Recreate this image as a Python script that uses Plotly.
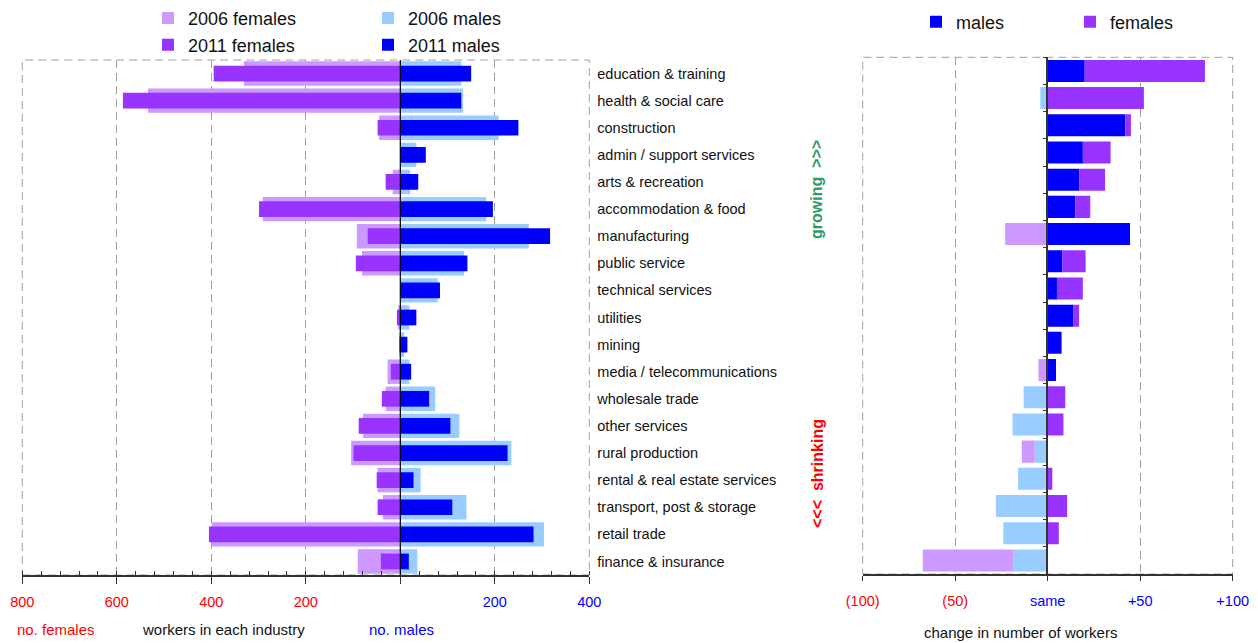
import plotly.graph_objects as go

# ---------------- data ----------------
industries = [
    "education & training", "health & social care", "construction",
    "admin / support services", "arts & recreation", "accommodation & food",
    "manufacturing", "public service", "technical services", "utilities",
    "mining", "media / telecommunications", "wholesale trade", "other services",
    "rural production", "rental & real estate services",
    "transport, post & storage", "retail trade", "finance & insurance",
]
females_2006 = [331, 534, 45, 0, 16, 291, 92, 81, 0, 3, 1, 27, 31, 79, 104, 48, 37, 399, 90]
females_2011 = [395, 587, 48, 0, 31, 299, 69, 94, 0, 7, 2, 20, 39, 88, 99, 50, 48, 405, 41]
males_2006 = [129, 133, 208, 34, 21, 182, 272, 135, 79, 19, 8, 19, 74, 125, 235, 43, 140, 304, 36]
males_2011 = [150, 129, 250, 54, 38, 196, 317, 142, 84, 34, 15, 23, 61, 106, 227, 28, 110, 282, 18]

male_change = [20, -4, 42, 19, 17, 15, 44.5, 8, 5, 14, 7.5, 4.5, -13, -19, -7, -16, -28, -24, -18.5]
female_change = [65, 52, 3, 15, 14, 8, -23, 12.5, 14, 3, 0, -5, 9.5, 8.5, -7, 2.5, 10.5, 6, -49]

left_ticks = [-800, -600, -400, -200, 0, 200, 400]
left_tick_text = ["800", "600", "400", "200", "", "200", "400"]
right_ticks = [-100, -50, 0, 50, 100]
right_tick_text = ["(100)", "(50)", "same", "+50", "+100"]

# ---------------- styles ----------------
C_F06, C_M06, C_F11, C_M11 = "#cc99ff", "#99ccff", "#9933ff", "#0000ff"
RED, BLUE = "#ff0000", "#0000ff"
FONT = "Liberation Sans, Arial, Helvetica, sans-serif"
W, H = 1258, 643
GRID = "#a0a0a0"
DASH = "8px,5px"


def px(v):
    return v / W


def py(v):
    return 1 - v / H


def col_text(txt, c):
    return f"<span style='color:{c}'>{txt}</span>" if txt else ""


fig = go.Figure()

# left: population pyramid (overlay)
fig.add_trace(go.Bar(y=industries, x=[-v for v in females_2006], orientation="h", width=0.9,
                     marker=dict(color=C_F06, line=dict(width=0)), name="2006 females",
                     legend="legend", xaxis="x", yaxis="y"))
fig.add_trace(go.Bar(y=industries, x=males_2006, orientation="h", width=0.9,
                     marker=dict(color=C_M06, line=dict(width=0)), name="2006 males",
                     legend="legend2", xaxis="x", yaxis="y"))
fig.add_trace(go.Bar(y=industries, x=[-v for v in females_2011], orientation="h", width=0.58,
                     marker=dict(color=C_F11, line=dict(width=0)), name="2011 females",
                     legend="legend3", xaxis="x", yaxis="y"))
fig.add_trace(go.Bar(y=industries, x=males_2011, orientation="h", width=0.58,
                     marker=dict(color=C_M11, line=dict(width=0)), name="2011 males",
                     legend="legend4", xaxis="x", yaxis="y"))

# right: change (relative stacking done through base)
male_cols = [C_M11 if v >= 0 else C_M06 for v in male_change]
female_cols = [C_F11 if v >= 0 else C_F06 for v in female_change]
female_base = [m if (m >= 0) == (f >= 0) else 0 for m, f in zip(male_change, female_change)]
fig.add_trace(go.Bar(y=industries, x=male_change, base=[0] * len(male_change), orientation="h",
                     width=0.81, marker=dict(color=male_cols, line=dict(width=0)), name="males",
                     legend="legend5", xaxis="x2", yaxis="y2"))
fig.add_trace(go.Bar(y=industries, x=female_change, base=female_base, orientation="h",
                     width=0.81, marker=dict(color=female_cols, line=dict(width=0)), name="females",
                     legend="legend6", xaxis="x2", yaxis="y2"))

left_dom = [px(22.3), px(589.3)]
right_dom = [px(862.7), px(1232.7)]
ydom_left = [py(575), py(60)]
ydom_right = [py(574), py(57.3)]

legend_common = dict(bgcolor="rgba(0,0,0,0)", borderwidth=0, xanchor="left", yanchor="middle",
                     font=dict(family=FONT, size=18, color="#111"))

fig.update_layout(
    width=W, height=H,
    margin=dict(l=0, r=0, t=0, b=0, autoexpand=False),
    paper_bgcolor="white", plot_bgcolor="white",
    barmode="overlay",
    font=dict(family=FONT, size=14.5, color="#111"),
    showlegend=True,
    legend=dict(x=px(148), y=py(18.3), **legend_common),
    legend2=dict(x=px(368), y=py(18.3), **legend_common),
    legend3=dict(x=px(148), y=py(45), **legend_common),
    legend4=dict(x=px(368), y=py(45), **legend_common),
    legend5=dict(x=px(916), y=py(22), **legend_common),
    legend6=dict(x=px(1070), y=py(22), **legend_common),
    xaxis=dict(domain=left_dom, anchor="y", range=[-800, 400], tickmode="array",
               tickvals=left_ticks,
               ticktext=[col_text(t, RED if v < 0 else BLUE) for t, v in zip(left_tick_text, left_ticks)],
               ticks="outside", ticklen=7, tickcolor="#333", tickwidth=1,
               minor=dict(dtick=40, ticks="inside", ticklen=4, tickcolor="#333", showgrid=False),
               showline=True, linecolor="#333", linewidth=1.5,
               showgrid=True, gridcolor=GRID, griddash=DASH, gridwidth=1,
               zeroline=False, ticklabelstandoff=6, fixedrange=True),
    yaxis=dict(domain=ydom_left, anchor="x", side="right", type="category",
               categoryorder="array", categoryarray=industries, range=[18.5, -0.5],
               showgrid=False, zeroline=False, ticks="", showline=False,
               tickfont=dict(size=14.5, color="#111"), ticklabelstandoff=7, fixedrange=True),
    xaxis2=dict(domain=right_dom, anchor="y2", range=[-100, 100], tickmode="array",
                tickvals=right_ticks,
                ticktext=[col_text(t, RED if v < 0 else BLUE) for t, v in zip(right_tick_text, right_ticks)],
                ticks="outside", ticklen=5, tickcolor="#333",
                showline=True, linecolor="#333", linewidth=1.5,
                showgrid=True, gridcolor=GRID, griddash=DASH, gridwidth=1,
                zeroline=False, ticklabelstandoff=8, fixedrange=True),
    yaxis2=dict(domain=ydom_right, anchor="free", position=px(1047.3), type="category",
                categoryorder="array", categoryarray=industries, range=[18.5, -0.5],
                showticklabels=False, ticks="outside", ticklen=4, tickson="boundaries",
                tickcolor="#333", showline=True, linecolor="#333", linewidth=1.5,
                showgrid=False, zeroline=False, layer="above traces", fixedrange=True),
)

# frames (dashed) and left zero line
for xr, yr in (("x domain", "y domain"), ("x2 domain", "y2 domain")):
    fig.add_shape(type="rect", xref=xr, yref=yr, x0=0, x1=1, y0=0, y1=1,
                  line=dict(color=GRID, width=1, dash=DASH), layer="below")
fig.add_shape(type="line", xref="x", yref="y domain", x0=0, x1=0, y0=0, y1=1,
              line=dict(color="#000", width=1.2), layer="above")

# axis titles and side notes
ann = [
    dict(text="no. females", x=px(56), y=py(629), font=dict(size=15, color=RED)),
    dict(text="workers in each industry", x=px(223), y=py(629), font=dict(size=15, color="#111")),
    dict(text="no. males", x=px(401), y=py(629), font=dict(size=15, color=BLUE)),
    dict(text="change in number of workers", x=px(1020.5), y=py(632), font=dict(size=15, color="#111")),
    dict(text="<b>growing\u00a0\u00a0>>></b>", x=px(817), y=py(190), textangle=-90,
         font=dict(size=16, color="#339966")),
    dict(text="<b><<<\u00a0\u00a0shrinking</b>", x=px(817), y=py(474), textangle=-90,
         font=dict(size=16, color=RED)),
]
for a in ann:
    fig.add_annotation(xref="paper", yref="paper", showarrow=False, xanchor="center",
                       yanchor="middle", **a)

fig.write_html(
    "out.html",
    config={"displayModeBar": False, "staticPlot": False},
    post_script="document.body.style.margin='0';document.body.style.padding='0';"
                "document.body.style.overflow='hidden';",
)
